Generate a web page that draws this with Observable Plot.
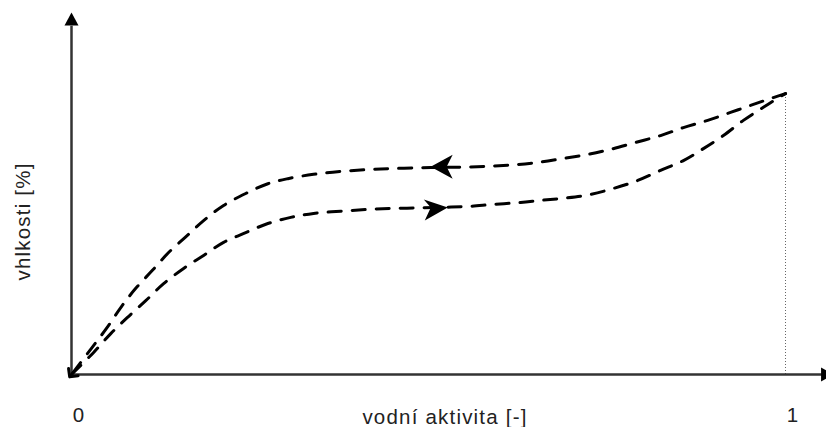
<!DOCTYPE html>
<html>
<head>
<meta charset="utf-8">
<script src="https://cdn.jsdelivr.net/npm/d3@7"></script>
<script src="https://cdn.jsdelivr.net/npm/@observablehq/plot@0.6"></script>
<style>
  html, body { margin: 0; padding: 0; background: white; }
  #chart { width: 826px; height: 427px; overflow: hidden; }
</style>
</head>
<body>
<div id="chart"></div>
<script>
// Tick labels on the water-activity axis
const xTickValues = [0, 1];
const xTickLabels = ["0", "1"];
const xTitle = "vodní aktivita [-]";
const yTitle = "vhlkosti [%]";

// Desorption branch (upper curve), drawn from a_w = 1 back to 0
const desorpX = [1.0, 0.983, 0.955, 0.923, 0.891, 0.857, 0.825, 0.790, 0.755, 0.723, 0.689, 0.657, 0.625, 0.591, 0.555, 0.517, 0.489, 0.451, 0.415, 0.377, 0.339, 0.303, 0.275, 0.244, 0.213, 0.185, 0.160, 0.136, 0.113, 0.090, 0.069, 0.050, 0.029, 0.0];
const desorpY = [77.6, 76.5, 74.6, 72.4, 70.2, 68.2, 66.0, 64.1, 62.2, 60.8, 59.7, 58.7, 58.0, 57.6, 57.3, 57.2, 57.1, 56.9, 56.6, 56.1, 55.3, 54.1, 52.7, 50.0, 46.7, 42.5, 38.0, 33.7, 28.7, 23.8, 18.5, 13.0, 7.5, 0];

// Adsorption branch (lower curve), drawn from 0 to 1
const sorpX = [0, 0.031, 0.055, 0.078, 0.104, 0.129, 0.157, 0.185, 0.213, 0.244, 0.275, 0.307, 0.339, 0.377, 0.415, 0.451, 0.485, 0.520, 0.555, 0.591, 0.629, 0.657, 0.689, 0.723, 0.759, 0.793, 0.825, 0.857, 0.885, 0.913, 0.941, 0.969, 0.993, 1.0];
const sorpY = [0, 6.1, 11.3, 15.7, 20.4, 25.1, 29.3, 32.9, 36.5, 39.2, 41.7, 43.4, 44.5, 45.1, 45.6, 45.9, 46.0, 46.2, 46.4, 47.0, 47.5, 48.1, 48.7, 49.6, 51.4, 53.6, 56.4, 59.1, 62.4, 66.0, 70.2, 73.8, 76.8, 77.6];

// Direction arrows on the curves (tip positions)
const arrowX = [0.503, 0.527];
const arrowY = [57.4, 46.1];
const arrowDir = ["left", "right"];

// Axis extents
const xDomainEnd = 1.0574;
const xArrowTip = 1.068;
const yAxisTop = 100;

const desorp = desorpX.map((x, i) => ({x, y: desorpY[i]}));
const sorp = sorpX.map((x, i) => ({x, y: sorpY[i]}));
const arrows = arrowX.map((x, i) => ({x, y: arrowY[i], dir: arrowDir[i]}));
const xTicks = xTickValues.map((v, i) => ({v, label: xTickLabels[i]}));

// custom symbols (anchored at the tip)
const stealthLeft = {draw(c) {
  c.moveTo(0, 0); c.lineTo(22, -12); c.lineTo(16, 0);
  c.lineTo(22, 12); c.closePath();
}};
const stealthRight = {draw(c) {
  c.moveTo(0, 0); c.lineTo(-24, -8); c.lineTo(-17, 0);
  c.lineTo(-23, 13); c.closePath();
}};
const triUp = {draw(c) { c.moveTo(0, 0); c.lineTo(7, 13); c.lineTo(-7, 13); c.closePath(); }};
const triRight = {draw(c) { c.moveTo(0, 0); c.lineTo(-13, -7); c.lineTo(-13, 7); c.closePath(); }};

const chart = Plot.plot({
  width: 826,
  height: 427,
  marginLeft: 71,
  marginRight: 0,
  marginTop: 12,
  marginBottom: 53,
  x: {domain: [0, xDomainEnd], axis: null},
  y: {domain: [0, yAxisTop], axis: null},
  style: {fontFamily: "'Liberation Sans', Arial, sans-serif", background: "white", color: "#222"},
  marks: [
    // dotted reference line at a_w = 1
    Plot.ruleX([1], {y1: 0, y2: desorpY[0], stroke: "#666", strokeWidth: 1, strokeDasharray: "1,2"}),
    // axes
    Plot.ruleX([0], {y1: 0, y2: yAxisTop - 3.8, stroke: "#333", strokeWidth: 2.5}),
    Plot.ruleY([0], {x1: 0, x2: xArrowTip - 0.012, stroke: "#333", strokeWidth: 2.5}),
    Plot.dot([0], {x: 0, y: yAxisTop, symbol: triUp, fill: "black", stroke: "none"}),
    Plot.dot([0], {x: xArrowTip, y: 0, symbol: triRight, fill: "black", stroke: "none"}),
    // curves
    Plot.line(desorp, {x: "x", y: "y", curve: "catmull-rom", stroke: "black", strokeWidth: 3, strokeDasharray: "13,11", markerEnd: "arrow"}),
    Plot.line(sorp, {x: "x", y: "y", curve: "catmull-rom", stroke: "black", strokeWidth: 3, strokeDasharray: "13,11"}),
    // direction arrows
    Plot.dot(arrows.filter(d => d.dir === "left"), {x: "x", y: "y", symbol: stealthLeft, fill: "black", stroke: "none"}),
    Plot.dot(arrows.filter(d => d.dir === "right"), {x: "x", y: "y", symbol: stealthRight, fill: "black", stroke: "none"}),
    // tick labels
    Plot.text(xTicks, {x: "v", y: 0, text: "label", dx: 7, dy: 41, fontSize: 20.5, fill: "#222", textAnchor: "middle", lineAnchor: "middle"}),
    // axis titles
    Plot.text([xTitle], {frameAnchor: "bottom", text: d => d, textAnchor: "middle", lineAnchor: "middle", dx: -4, dy: 42.5, fontSize: 20.5, fill: "#222", className: "ttl"}),
    Plot.text([yTitle], {frameAnchor: "left", text: d => d, rotate: -90, textAnchor: "middle", lineAnchor: "middle", dx: -48.5, dy: 28, fontSize: 20.5, fill: "#222", className: "ttl"})
  ]
});
d3.select(chart).selectAll(".ttl text").style("letter-spacing", "1.2px");
document.getElementById("chart").appendChild(chart);
</script>
</body>
</html>
